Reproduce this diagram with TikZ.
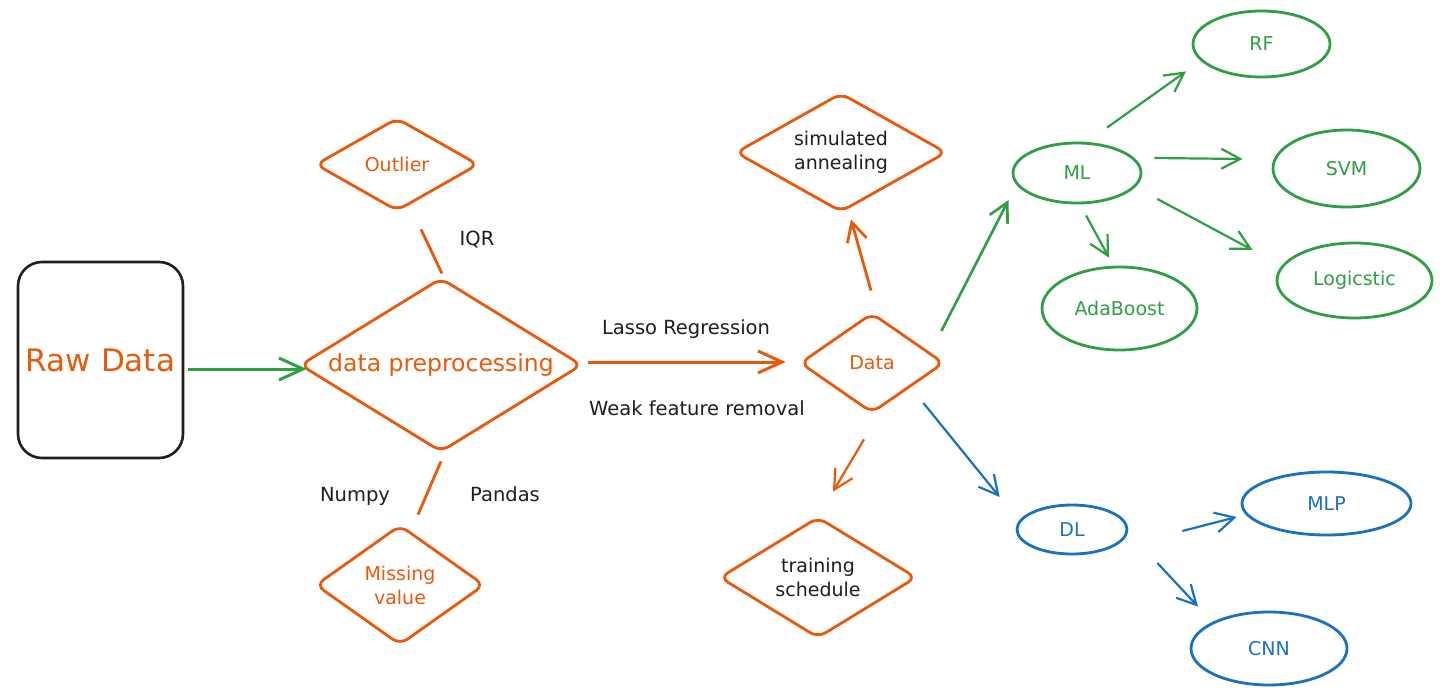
\documentclass[tikz,border=0pt]{standalone}
\usepackage{fontspec}
\setmainfont{DejaVu Sans}
\usetikzlibrary{shapes.geometric,arrows.meta}
\definecolor{exor}{HTML}{E8590C}
\definecolor{exgr}{HTML}{2F9E44}
\definecolor{exbl}{HTML}{1971C2}
\definecolor{exbk}{HTML}{1E1E1E}
\begin{document}
\begin{tikzpicture}[x=1pt,y=-1pt,
  small/.style={font=\fontsize{19}{24}\selectfont},
  dia/.style n args={3}{diamond, draw=exor, line width=2.8pt, rounded corners=9pt,
     inner sep=0pt, minimum width=#1, minimum height=#2, shape aspect=#3, align=center, small},
  ell/.style n args={3}{ellipse, draw=#3, text=#3, line width=2.8pt, inner sep=0pt,
     minimum width=#1, minimum height=#2, small},
  lbl/.style={font=\fontsize{19.5}{24}\selectfont, text=exbk},
  arr/.style={line width=2.2pt, -{Straight Barb[length=19pt,width=20pt]}},
  bigarr/.style={line width=3pt, -{Straight Barb[length=24pt,width=22pt]}},
  link/.style={line width=2.8pt, draw=exor}
]
\useasboundingbox (0,0) rectangle (1450,700);
\fill[white] (0,0) rectangle (1450,700);

% nodes
\node[draw=exbk, line width=2.6pt, rounded corners=24pt, minimum width=165pt, minimum height=196pt,
      text=exor, font=\fontsize{31}{36}\selectfont] (raw) at (100.5,360) {Raw Data};
\node[dia={282pt}{174pt}{1.62}, text=exor, font=\fontsize{23.5}{28}\selectfont] (pre) at (441,365) {data preprocessing};
\node[dia={163pt}{93pt}{1.75}, text=exor] (out) at (397,164.5) {Outlier};
\node[dia={169pt}{120pt}{1.4}, text=exor] (miss) at (400,585) {Missing\\value};
\node[dia={144pt}{100pt}{1.44}, text=exor] (data) at (872,363) {Data};
\node[dia={211pt}{119pt}{1.77}, text=exbk] (sim) at (841,152.5) {simulated\\annealing};
\node[dia={197pt}{121pt}{1.63}, text=exbk] (train) at (818,577.5) {training\\schedule};

\node[ell={128pt}{60pt}{exgr}] (ml) at (1077,173) {ML};
\node[ell={137pt}{66pt}{exgr}] (rf) at (1261.5,44) {RF};
\node[ell={147pt}{77pt}{exgr}] (svm) at (1346.5,168.5) {SVM};
\node[ell={155pt}{75pt}{exgr}] (log) at (1354.5,280.5) {Logicstic};
\node[ell={155pt}{83pt}{exgr}] (ada) at (1119.5,308.5) {AdaBoost};
\node[ell={110pt}{49pt}{exbl}] (dl) at (1072,529.5) {DL};
\node[ell={169pt}{63pt}{exbl}] (mlp) at (1326.5,503.5) {MLP};
\node[ell={156pt}{73pt}{exbl}] (cnn) at (1269,648.5) {CNN};

% labels
\node[lbl] (iqr) at (477,240) {IQR};
\node[lbl] (numpy) at (355,496) {Numpy};
\node[lbl] (pandas) at (505,494) {Pandas};
\node[lbl] (lasso) at (686,329) {Lasso Regression};
\node[lbl] (weak) at (697,408) {Weak feature removal};

% connectors
\draw[bigarr, exgr] ([shift={(4,9)}]raw.east) -- ([shift={(8,4)}]pre.west);
\draw[link] ([shift={(1,-3)}]pre.north) -- ([shift={(24,17)}]out.south);
\draw[link] ([shift={(0,8)}]pre.south) -- ([shift={(18,-9)}]miss.north);
\draw[bigarr, exor] ([shift={(5,-3)}]pre.east) -- ([shift={(-13,-1)}]data.west);
\draw[arr, exor, line width=2.8pt] ([shift={(-1,-21)}]data.north) -- ([shift={(10,6)}]sim.south);
\draw[arr, exor] ([shift={(-8,25)}]data.south) -- ([shift={(15,-24)}]train.north);
\draw[arr, exgr, line width=2.6pt] ([shift={(-4,-32)}]data.east) -- ([shift={(-3,27)}]ml.west);
\draw[arr, exbl] ([shift={(-22,40)}]data.east) -- ([shift={(-16,-32.5)}]dl.west);

\draw[arr, exgr] ([shift={(30,-14)}]ml.north) -- ([shift={(-75.5,-7)}]rf.south);
\draw[arr, exgr] ([shift={(12,-15)}]ml.east) -- ([shift={(-29,-9.5)}]svm.west);
\draw[arr, exgr] ([shift={(15,26)}]ml.east) -- ([shift={(-23,-30.5)}]log.west);
\draw[arr, exgr] ([shift={(9,11)}]ml.south) -- ([shift={(-10.5,-8)}]ada.north);
\draw[arr, exbl] ([shift={(54,1.5)}]dl.east) -- ([shift={(-4,13.5)}]mlp.west);
\draw[arr, exbl] ([shift={(29,33.5)}]dl.east) -- ([shift={(-71,-4)}]cnn.north);
\end{tikzpicture}
\end{document}
